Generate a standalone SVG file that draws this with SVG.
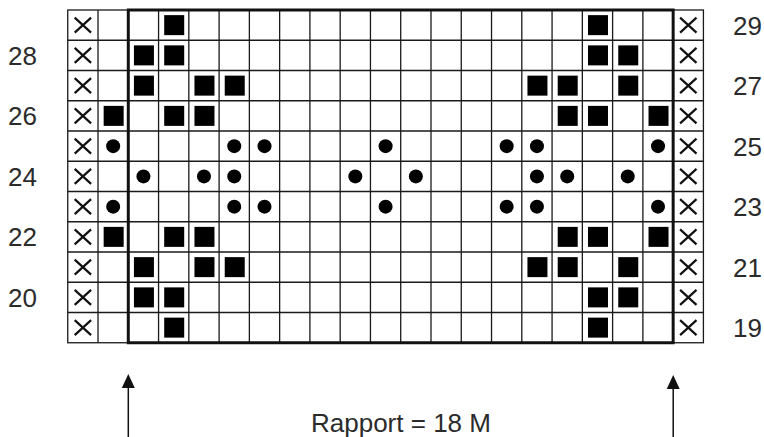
<svg xmlns="http://www.w3.org/2000/svg" width="764" height="437" viewBox="0 0 764 437">
<style>
.grid{stroke:#1a1a1a;stroke-width:1.3;fill:none}
.frame{stroke:#111;stroke-width:3;fill:none}
.sq{fill:#000}
.dot{fill:#000}
.xm{stroke:#111;stroke-width:2.2;fill:none}
.lbl{font-family:"Liberation Sans",Arial,sans-serif;font-size:26px;fill:#2b2b2b}
.arr{stroke:#111;stroke-width:1.5;fill:none}
.head{fill:#111}
</style>
<defs>
<rect id="sq" class="sq" x="-10" y="-10" width="20" height="20"/>
<circle id="dot" class="dot" r="7"/>
<path id="xm" class="xm" d="M-8.2,-7.5 L8.2,7.5 M8.2,-7.5 L-8.2,7.5"/>
</defs>
<rect x="0" y="0" width="764" height="437" fill="#fff"/>
<g id="grid">
<rect x="67.75" y="10" width="635.67" height="332.75" fill="#fff" class="grid"/>
<path class="grid" d="M67.75,40.25H703.42M67.75,70.5H703.42M67.75,100.75H703.42M67.75,131H703.42M67.75,161.25H703.42M67.75,191.5H703.42M67.75,221.75H703.42M67.75,252H703.42M67.75,282.25H703.42M67.75,312.5H703.42"/>
<path class="grid" d="M98.02,10V342.75M158.56,10V342.75M188.83,10V342.75M219.1,10V342.75M249.37,10V342.75M279.64,10V342.75M309.91,10V342.75M340.18,10V342.75M370.45,10V342.75M400.72,10V342.75M430.99,10V342.75M461.26,10V342.75M491.53,10V342.75M521.8,10V342.75M552.07,10V342.75M582.34,10V342.75M612.61,10V342.75M642.88,10V342.75"/>
<rect id="rapport-frame" class="frame" x="128.29" y="10" width="544.86" height="332.75"/>
</g>
<g id="edge-x">
<use href="#xm" x="82.89" y="25.13"/><use href="#xm" x="82.89" y="55.38"/><use href="#xm" x="82.89" y="85.63"/><use href="#xm" x="82.89" y="115.88"/><use href="#xm" x="82.89" y="146.13"/><use href="#xm" x="82.89" y="176.38"/><use href="#xm" x="82.89" y="206.63"/><use href="#xm" x="82.89" y="236.88"/><use href="#xm" x="82.89" y="267.13"/><use href="#xm" x="82.89" y="297.38"/><use href="#xm" x="82.89" y="327.63"/>
<use href="#xm" x="688.29" y="25.13"/><use href="#xm" x="688.29" y="55.38"/><use href="#xm" x="688.29" y="85.63"/><use href="#xm" x="688.29" y="115.88"/><use href="#xm" x="688.29" y="146.13"/><use href="#xm" x="688.29" y="176.38"/><use href="#xm" x="688.29" y="206.63"/><use href="#xm" x="688.29" y="236.88"/><use href="#xm" x="688.29" y="267.13"/><use href="#xm" x="688.29" y="297.38"/><use href="#xm" x="688.29" y="327.63"/>
</g>
<g id="squares">
<!-- row 29 -->
<use href="#sq" x="174.2" y="25.13"/><use href="#sq" x="597.98" y="25.13"/>
<!-- row 28 -->
<use href="#sq" x="143.93" y="55.38"/><use href="#sq" x="174.2" y="55.38"/><use href="#sq" x="597.98" y="55.38"/><use href="#sq" x="628.25" y="55.38"/>
<!-- row 27 -->
<use href="#sq" x="143.93" y="85.63"/><use href="#sq" x="204.47" y="85.63"/><use href="#sq" x="234.74" y="85.63"/><use href="#sq" x="537.44" y="85.63"/><use href="#sq" x="567.71" y="85.63"/><use href="#sq" x="628.25" y="85.63"/>
<!-- row 26 -->
<use href="#sq" x="113.66" y="115.88"/><use href="#sq" x="174.2" y="115.88"/><use href="#sq" x="204.47" y="115.88"/><use href="#sq" x="567.71" y="115.88"/><use href="#sq" x="597.98" y="115.88"/><use href="#sq" x="658.52" y="115.88"/>
<!-- row 22 -->
<use href="#sq" x="113.66" y="236.88"/><use href="#sq" x="174.2" y="236.88"/><use href="#sq" x="204.47" y="236.88"/><use href="#sq" x="567.71" y="236.88"/><use href="#sq" x="597.98" y="236.88"/><use href="#sq" x="658.52" y="236.88"/>
<!-- row 21 -->
<use href="#sq" x="143.93" y="267.13"/><use href="#sq" x="204.47" y="267.13"/><use href="#sq" x="234.74" y="267.13"/><use href="#sq" x="537.44" y="267.13"/><use href="#sq" x="567.71" y="267.13"/><use href="#sq" x="628.25" y="267.13"/>
<!-- row 20 -->
<use href="#sq" x="143.93" y="297.38"/><use href="#sq" x="174.2" y="297.38"/><use href="#sq" x="597.98" y="297.38"/><use href="#sq" x="628.25" y="297.38"/>
<!-- row 19 -->
<use href="#sq" x="174.2" y="327.63"/><use href="#sq" x="597.98" y="327.63"/>
</g>
<g id="dots">
<!-- row 25 -->
<use href="#dot" x="113.16" y="146.13"/><use href="#dot" x="234.24" y="146.13"/><use href="#dot" x="264.51" y="146.13"/><use href="#dot" x="385.59" y="146.13"/><use href="#dot" x="506.67" y="146.13"/><use href="#dot" x="536.94" y="146.13"/><use href="#dot" x="658.02" y="146.13"/>
<!-- row 24 -->
<use href="#dot" x="143.43" y="176.38"/><use href="#dot" x="203.97" y="176.38"/><use href="#dot" x="234.24" y="176.38"/><use href="#dot" x="355.32" y="176.38"/><use href="#dot" x="415.86" y="176.38"/><use href="#dot" x="536.94" y="176.38"/><use href="#dot" x="567.21" y="176.38"/><use href="#dot" x="627.75" y="176.38"/>
<!-- row 23 -->
<use href="#dot" x="113.16" y="206.63"/><use href="#dot" x="234.24" y="206.63"/><use href="#dot" x="264.51" y="206.63"/><use href="#dot" x="385.59" y="206.63"/><use href="#dot" x="506.67" y="206.63"/><use href="#dot" x="536.94" y="206.63"/><use href="#dot" x="658.02" y="206.63"/>
</g>
<g id="row-numbers">
<text class="lbl" x="733" y="34.6">29</text>
<text class="lbl" x="8" y="64.9">28</text>
<text class="lbl" x="733" y="95.1">27</text>
<text class="lbl" x="8" y="125.4">26</text>
<text class="lbl" x="733" y="155.6">25</text>
<text class="lbl" x="8" y="185.9">24</text>
<text class="lbl" x="733" y="216.1">23</text>
<text class="lbl" x="8" y="246.4">22</text>
<text class="lbl" x="733" y="276.6">21</text>
<text class="lbl" x="8" y="306.9">20</text>
<text class="lbl" x="733" y="337.1">19</text>
</g>
<g id="connectors">
<line class="arr" x1="128.3" y1="386" x2="128.3" y2="437"/>
<polygon class="head" points="128.3,374 121.8,388 134.8,388"/>
<line class="arr" x1="673.2" y1="387" x2="673.2" y2="437"/>
<polygon class="head" points="673.2,375 666.7,389 679.7,389"/>
</g>
<g id="caption">
<text class="lbl" x="311" y="432">Rapport = 18 M</text>
</g>
</svg>
